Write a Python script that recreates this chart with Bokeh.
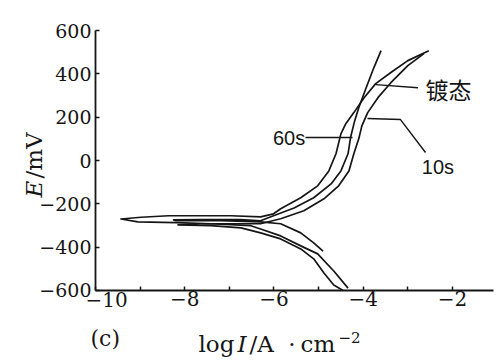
from bokeh.plotting import figure
from bokeh.models import Label, FixedTicker, Range1d, LinearAxis
from bokeh.embed import file_html
from bokeh.resources import INLINE

# ---- data (log I in A/cm^2, E in mV) ----
plated_logI = [-4.34, -4.66, -5.02, -5.40, -5.85, -6.30, -6.52, -7.41, -8.20, -9.05, -9.43,
               -8.98, -8.36, -6.97, -6.30, -6.01, -5.85, -5.40, -5.02, -4.77, -4.61, -4.50,
               -4.39, -4.21, -3.98, -3.72, -3.38, -3.00, -2.53]
plated_E = [-589, -510, -431, -394, -348, -316, -301, -292, -287, -283, -270,
            -262, -255, -255, -260, -246, -223, -172, -117, -48, 31, 123,
            170, 221, 290, 355, 406, 461, 507]

s60_logI = [-4.90, -5.11, -5.40, -5.85, -6.30, -7.19, -8.20, -8.25, -7.64, -6.74, -6.30,
            -6.01, -5.55, -5.11, -4.72, -4.50, -4.34, -4.28, -4.19, -4.10, -3.94, -3.76, -3.60]
s60_E = [-418, -380, -334, -292, -283, -278, -278, -274, -273, -273, -278,
         -255, -219, -172, -108, -48, 31, 110, 184, 244, 332, 429, 507]

s10_logI = [-4.45, -4.66, -4.88, -5.11, -5.40, -5.85, -6.30, -6.74, -7.41, -8.15, -7.64,
            -6.74, -6.30, -5.85, -5.33, -4.88, -4.55, -4.32, -4.21, -4.10, -4.03, -3.90,
            -3.67, -3.38, -3.00, -2.64]
s10_E = [-600, -575, -519, -454, -408, -362, -334, -311, -301, -297, -292,
         -292, -292, -269, -232, -177, -117, -48, 31, 100, 160, 221,
         290, 359, 438, 493]

x_ticks = [-10, -8, -6, -4, -2]
x_minor = [-9, -7, -5, -3]
y_ticks = [-600, -400, -200, 0, 200, 400, 600]

label_plated = "镀态"
label_60 = "60s"
label_10 = "10s"

# leader lines (label pointers)
lead_plated_x = [-3.715, -2.773]
lead_plated_y = [350, 336]
lead_60_x = [-5.294, -4.240]
lead_60_y = [106, 106]
lead_10_x = [-3.904, -3.164, -2.604]
lead_10_y = [194, 189, 37]

INK = "#151515"
SERIF = "DejaVu Serif"

# the frame covers the whole canvas; the axes are drawn at fixed data positions
p = figure(width=500, height=360, x_range=Range1d(-12.129, -0.923), y_range=Range1d(-923.1, 738.5),
           output_backend="svg", toolbar_location=None,
           x_axis_location=None, y_axis_location=None,
           min_border=0, min_border_left=0, min_border_right=0,
           min_border_top=0, min_border_bottom=0)
p.xgrid.visible = False
p.ygrid.visible = False
p.outline_line_color = None
p.background_fill_color = "white"
p.border_fill_color = "white"

xaxis = LinearAxis(fixed_location=-600, bounds=(-10, -1.08),
                   ticker=FixedTicker(ticks=x_ticks, minor_ticks=x_minor))
yaxis = LinearAxis(fixed_location=-10, bounds=(-600, 600),
                   ticker=FixedTicker(ticks=y_ticks, minor_ticks=[]))
for ax in (xaxis, yaxis):
    ax.axis_line_color = INK
    ax.axis_line_width = 1.8
    ax.major_tick_line_color = INK
    ax.major_tick_line_width = 1.5
    ax.minor_tick_line_color = INK
    ax.minor_tick_line_width = 1.5
    ax.major_tick_in = 4
    ax.major_tick_out = 0
    ax.minor_tick_in = 4
    ax.minor_tick_out = 0
    ax.major_label_text_font = SERIF
    ax.major_label_text_color = INK
xaxis.major_label_text_font_size = "20px"
yaxis.major_label_text_font_size = "19px"
xaxis.major_label_standoff = 1
yaxis.major_label_standoff = 4
xaxis.major_label_overrides = {-10: ""}
p.add_layout(xaxis, "below")
p.add_layout(yaxis, "left")

for xs, ys in ((plated_logI, plated_E), (s60_logI, s60_E), (s10_logI, s10_E)):
    p.line(xs, ys, line_color=INK, line_width=1.7, line_join="round")

for xs, ys in ((lead_plated_x, lead_plated_y), (lead_60_x, lead_60_y), (lead_10_x, lead_10_y)):
    p.line(xs, ys, line_color=INK, line_width=1.4)

def lab(x, y, text, font=SERIF, size="20px", align="left", baseline="alphabetic",
        style="normal", angle=0):
    p.add_layout(Label(x=x, y=y, text=text, text_font=font, text_font_size=size,
                       text_align=align, text_baseline=baseline, text_font_style=style,
                       text_color=INK, angle=angle))

# curve labels
lab(-2.089, 328, label_plated, font="Noto Sans CJK SC", size="23px", align="center", baseline="middle")
lab(-5.663, 106, label_60, font="Liberation Sans", size="20px", align="center", baseline="middle")
lab(-2.324, -28, label_10, font="Liberation Sans", size="20px", align="center", baseline="middle")

# shifted first x tick label
lab(-9.753, -609, "−10", size="20px", align="center", baseline="top")

# x axis title: log I/A · cm^-2
lab(-7.692, -845, "log", size="23px")
lab(-6.818, -845, "I", size="23px", style="italic")
lab(-6.549, -845, "/A", size="23px")
lab(-5.596, -845, "·", size="23px", align="center")
lab(-5.405, -845, "cm", size="23px")
lab(-4.554, -815, "−2", size="15px")

# y axis title: E/mV
lab(-11.367, -171, "E", size="23px", style="italic", angle=1.5708)
lab(-11.367, -83, "/mV", size="23px", angle=1.5708)

# panel tag
lab(-10.112, -820, "(c)", size="22px")

open("out.html", "w").write(file_html(p, INLINE))
